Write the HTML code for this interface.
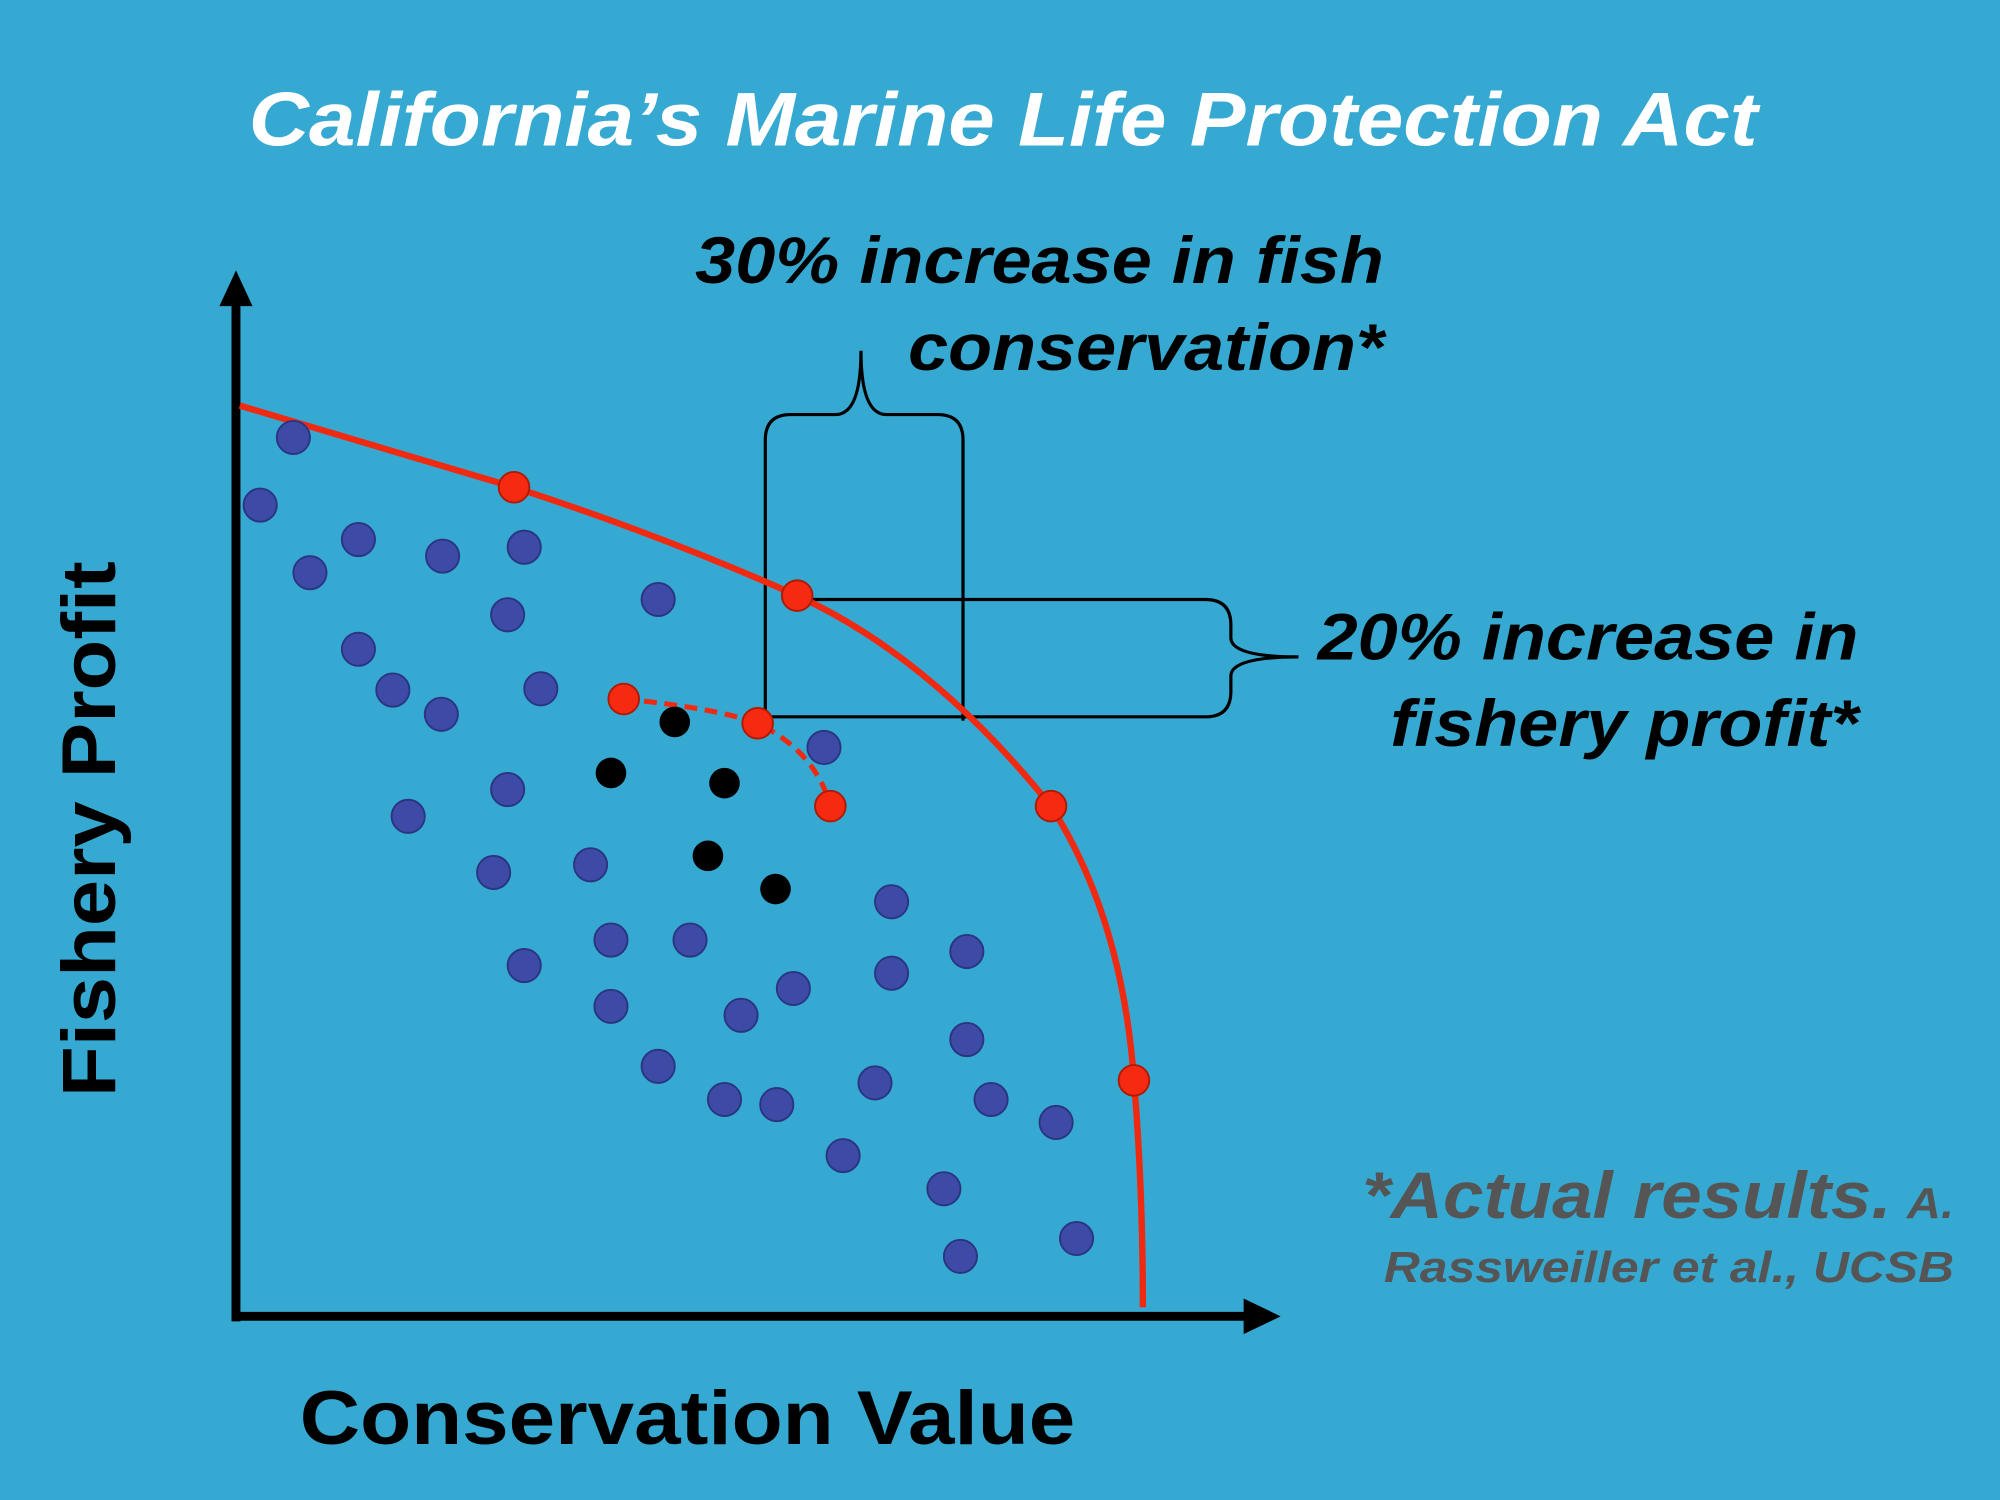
<!DOCTYPE html>
<html><head><meta charset="utf-8"><style>
html,body{margin:0;padding:0;background:#36A9D2;}
svg{display:block;}
text{font-family:"Liberation Sans",Arial,sans-serif;font-weight:bold;}
</style></head><body>
<svg width="2000" height="1500" viewBox="0 0 1568 1176" xmlns="http://www.w3.org/2000/svg">
<rect width="1568" height="1176" fill="#36A9D2"/>
<text x="195" y="114" font-size="60" font-style="italic" fill="#fff" textLength="1183" lengthAdjust="spacingAndGlyphs">California’s Marine Life Protection Act</text>
<!-- axes -->
<line x1="185" y1="1036" x2="185" y2="235" stroke="#000" stroke-width="7"/>
<polygon points="172,240 198,240 185,212" fill="#000"/>
<line x1="182" y1="1032" x2="980" y2="1032" stroke="#000" stroke-width="7"/>
<polygon points="975,1018 975,1046 1004,1032" fill="#000"/>
<!-- brackets -->
<g fill="none" stroke="#000" stroke-width="2.5">
<path d="M600,565 L600,345 Q600,325 620,325 L655,325 Q675,325 675,275 Q675,325 695,325 L735,325 Q755,325 755,345 L755,565"/>
<path d="M625,470 L945,470 Q965,470 965,490 L965,500 Q965,515 1018,515 Q965,515 965,530 L965,542 Q965,562 945,562 L600,562"/>
</g>
<!-- frontier -->
<path d="M188,318 L403,382 Q520,420 625,467 Q730,515 824,632 Q880,720 889,847 Q896,930 896,1025" fill="none" stroke="#F02A10" stroke-width="5"/>
<path d="M489,548 Q560,555 594,567 Q640,590 651,632" fill="none" stroke="#F02A10" stroke-width="4" stroke-dasharray="10,6"/>
<g fill="#3D4BA6" stroke="#2A3580" stroke-width="1.5">
<circle cx="230" cy="343" r="13"/><circle cx="204" cy="396" r="13"/><circle cx="243" cy="449" r="13"/><circle cx="281" cy="423" r="13"/><circle cx="347" cy="436" r="13"/><circle cx="411" cy="429" r="13"/><circle cx="398" cy="482" r="13"/><circle cx="516" cy="470" r="13"/><circle cx="281" cy="509" r="13"/><circle cx="308" cy="541" r="13"/><circle cx="346" cy="560" r="13"/><circle cx="424" cy="540" r="13"/><circle cx="398" cy="619" r="13"/><circle cx="320" cy="640" r="13"/><circle cx="387" cy="684" r="13"/><circle cx="463" cy="678" r="13"/><circle cx="646" cy="586" r="13"/><circle cx="699" cy="707" r="13"/><circle cx="479" cy="737" r="13"/><circle cx="541" cy="737" r="13"/><circle cx="411" cy="757" r="13"/><circle cx="758" cy="746" r="13"/><circle cx="699" cy="763" r="13"/><circle cx="622" cy="775" r="13"/><circle cx="479" cy="789" r="13"/><circle cx="581" cy="796" r="13"/><circle cx="758" cy="815" r="13"/><circle cx="516" cy="836" r="13"/><circle cx="686" cy="849" r="13"/><circle cx="568" cy="862" r="13"/><circle cx="609" cy="866" r="13"/><circle cx="777" cy="862" r="13"/><circle cx="828" cy="880" r="13"/><circle cx="661" cy="906" r="13"/><circle cx="740" cy="932" r="13"/><circle cx="844" cy="971" r="13"/><circle cx="753" cy="985" r="13"/>
</g>
<g fill="#000">
<circle cx="529" cy="566" r="12"/><circle cx="479" cy="606" r="12"/><circle cx="568" cy="614" r="12"/><circle cx="555" cy="671" r="12"/><circle cx="608" cy="697" r="12"/>
</g>
<g fill="#F52A10" stroke="#B01A00" stroke-width="1.5">
<circle cx="403" cy="382" r="12"/><circle cx="625" cy="467" r="12"/><circle cx="824" cy="632" r="12"/><circle cx="889" cy="847" r="12"/>
<circle cx="489" cy="548" r="12"/><circle cx="594" cy="567" r="12"/><circle cx="651" cy="632" r="12"/>
</g>
<text x="545" y="222" font-size="52" font-style="italic" fill="#000" textLength="540" lengthAdjust="spacingAndGlyphs">30% increase in fish</text>
<text x="712" y="290" font-size="52" font-style="italic" fill="#000" textLength="373" lengthAdjust="spacingAndGlyphs">conservation*</text>
<text x="1033" y="517" font-size="52" font-style="italic" fill="#000" textLength="424" lengthAdjust="spacingAndGlyphs">20% increase in</text>
<text x="1090" y="585" font-size="52" font-style="italic" fill="#000" textLength="367" lengthAdjust="spacingAndGlyphs">fishery profit*</text>
<text transform="translate(90,860) rotate(-90)" font-size="60" fill="#000" textLength="420" lengthAdjust="spacingAndGlyphs">Fishery Profit</text>
<text x="235" y="1132" font-size="60" fill="#000" textLength="608" lengthAdjust="spacingAndGlyphs">Conservation Value</text>
<text x="1068" y="955" font-size="52" font-style="italic" fill="#555" textLength="415" lengthAdjust="spacingAndGlyphs">*Actual results.</text>
<text x="1495" y="955" font-size="34" font-style="italic" fill="#555" textLength="37" lengthAdjust="spacingAndGlyphs">A.</text>
<text x="1085" y="1005" font-size="34" font-style="italic" fill="#555" textLength="447" lengthAdjust="spacingAndGlyphs">Rassweiller et al., UCSB</text>
</svg>
</body></html>
